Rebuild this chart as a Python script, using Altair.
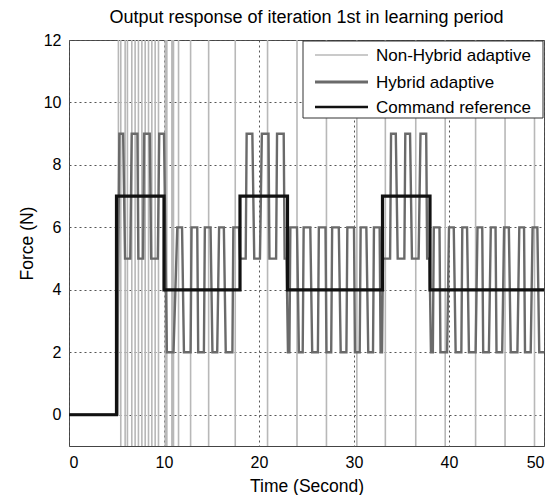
import altair as alt
import pandas as pd

# Command reference (step-after)
cmd_t = [0, 5, 10, 18, 23, 33, 38, 50]
cmd_y = [0, 7, 4, 7, 4, 7, 4, 4]

# Hybrid adaptive: flat segments (start, end, level)
hyb_start = [0, 5.3, 5.9, 6.6, 7.3, 7.9, 8.65, 9.5,
             10.3, 11.4, 12.1, 12.9, 13.6, 14.3, 15.1, 15.8, 16.5, 17.3,
             18.0, 18.7, 19.5, 20.3, 21.1, 21.9, 22.7,
             23.05, 23.3, 24.2, 24.7, 25.6, 26.3, 27.1, 27.7, 28.6, 29.3, 30.1, 30.7, 31.5, 32.1, 32.8,
             33.05, 33.9, 34.6, 35.4, 36.1, 37.0, 37.7,
             38.1, 38.4, 39.1, 40.0, 40.7, 41.4, 42.1, 43.0, 43.6, 44.4, 45.0, 45.8, 46.5, 47.4, 48.0, 48.8, 49.5]
hyb_end = [5.05, 5.7, 6.45, 7.2, 7.8, 8.5, 9.35, 10.0,
           11.0, 11.9, 12.8, 13.5, 14.2, 14.9, 15.6, 16.3, 17.2, 17.9,
           18.6, 19.3, 20.1, 21.0, 21.8, 22.6, 22.9,
           23.2, 24.0, 24.6, 25.4, 26.2, 27.0, 27.6, 28.4, 29.2, 30.0, 30.6, 31.3, 32.0, 32.7, 32.95,
           33.8, 34.4, 35.3, 35.9, 36.8, 37.6, 37.95,
           38.3, 39.0, 39.8, 40.5, 41.3, 41.9, 42.8, 43.5, 44.2, 44.9, 45.6, 46.3, 47.2, 47.9, 48.6, 49.3, 50.0]
hyb_level = [0, 9, 5, 9, 5, 9, 5, 9,
             2, 6, 2, 6, 2, 6, 2, 6, 2, 6,
             5, 9, 5, 9, 5, 9, 5,
             2, 6, 2, 6, 2, 6, 2, 6, 2, 6, 2, 6, 2, 6, 2,
             5, 9, 5, 9, 5, 9, 5,
             2, 6, 2, 6, 2, 6, 2, 6, 2, 6, 2, 6, 2, 6, 2, 6, 2]

# Non-Hybrid adaptive: switching instants and the (off-scale) level after each switch
nh_switch = [5.20, 5.45, 5.91, 6.15, 6.61, 6.96, 7.31, 7.67, 8.02, 8.37, 8.72, 9.07, 9.42,
             10.13, 10.30, 10.83, 11.00, 11.53, 12.8, 14.7, 17.5, 20.9, 24.0, 27.1,
             30.3, 33.3, 36.5, 39.6, 42.8, 45.9, 49.0]
nh_level = [40, -30, 40, -30, 40, -30, 40, -30, 40, -30, 40, -30, 40,
            -30, 40, -30, 40, -30, 40, -30, 40, -30, 40, -30,
            40, -30, 40, -30, 40, -30, 40]

names = ["Non-Hybrid adaptive", "Hybrid adaptive", "Command reference"]
colors = ["#b8b8b8", "#6a6a6a", "#111111"]
widths = [1.6, 3.2, 2.6]

rows = []
i = 0
rows.append(dict(t=0, y=0, s=names[0], i=i)); i += 1
prev = 0
for t, lv in zip(nh_switch, nh_level):
    rows.append(dict(t=t, y=prev, s=names[0], i=i)); i += 1
    rows.append(dict(t=t, y=lv, s=names[0], i=i)); i += 1
    prev = lv
rows.append(dict(t=50, y=prev, s=names[0], i=i)); i += 1
for a, b, lv in zip(hyb_start, hyb_end, hyb_level):
    rows.append(dict(t=a, y=lv, s=names[1], i=i)); i += 1
    rows.append(dict(t=b, y=lv, s=names[1], i=i)); i += 1
for t, v in zip(cmd_t, cmd_y):
    rows.append(dict(t=t, y=v, s=names[2], i=i)); i += 1

df = pd.DataFrame(rows)

FONT = "Liberation Sans"
W, H = 475, 406

xenc = alt.X("t:Q", scale=alt.Scale(domain=[0, 50], nice=False),
             axis=alt.Axis(values=[0, 10, 20, 30, 40, 50], title="Time (Second)"))
yenc = alt.Y("y:Q", scale=alt.Scale(domain=[-1, 12], nice=False),
             axis=alt.Axis(values=[0, 2, 4, 6, 8, 10, 12], title="Force (N)"))
cenc = alt.Color("s:N", scale=alt.Scale(domain=names, range=colors), legend=None)
wenc = alt.StrokeWidth("s:N", scale=alt.Scale(domain=names, range=widths), legend=None)

base = alt.Chart(df)
layers = []
for k, n in enumerate(names):
    mk = base.mark_line(clip=True, interpolate="step-after" if k == 2 else "linear",
                        strokeJoin="miter", strokeCap="butt")
    layers.append(mk.encode(x=xenc, y=yenc, color=cenc, strokeWidth=wenc,
                            order=alt.Order("i:Q")).transform_filter(alt.datum.s == n))

# Legend box (drawn as a MATLAB-style inset legend)
one = alt.Chart(pd.DataFrame({"a": [0]}))
lx0, ly0, lx1, ly1 = 234, 1, W - 1, 78
layers.append(one.mark_rect(fill="white", stroke="#333", strokeWidth=1).encode(
    x=alt.value(lx0), x2=alt.value(lx1), y=alt.value(ly0), y2=alt.value(ly1)))
row_y = [15, 42, 67]
for k, n in enumerate(names):
    layers.append(one.mark_rule(color=colors[k], strokeWidth=widths[k], strokeCap="butt").encode(
        x=alt.value(246), x2=alt.value(299), y=alt.value(row_y[k]), y2=alt.value(row_y[k])))
    layers.append(one.mark_text(align="left", baseline="middle", font=FONT, fontSize=17,
                                color="black").encode(
        x=alt.value(307), y=alt.value(row_y[k] + 1), text=alt.value(n)))

chart = alt.layer(*layers).properties(
    width=W, height=H,
    padding={"left": 69, "top": 40, "right": 15, "bottom": 49},
    autosize="none",
    title=alt.TitleParams("Output response of iteration 1st in learning period",
                          fontSize=18, font=FONT, fontWeight="normal", color="black",
                          anchor="middle", offset=5),
).configure_view(stroke="#444", strokeWidth=1).configure_axis(
    grid=True, gridColor="#555", gridDash=[2, 3], gridWidth=1, gridOpacity=1,
    domain=False, ticks=False, labelFont=FONT, labelFontSize=16, labelColor="black",
    titleFont=FONT, titleFontSize=17.5, titleFontWeight="normal", titleColor="black",
    labelPadding=8,
).configure_axisX(titlePadding=7).configure_axisY(titlePadding=7)

chart.save("out.html", embed_options={"renderer": "svg", "actions": False})
